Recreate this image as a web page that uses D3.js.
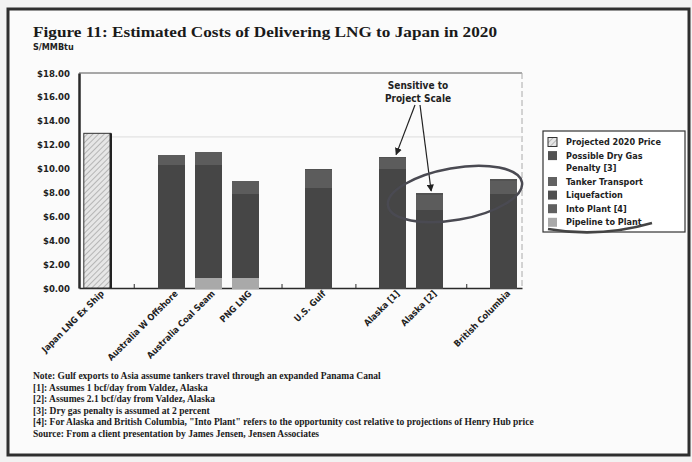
<!DOCTYPE html>
<html lang="en">
<head>
<meta charset="UTF-8">
<title>Estimated Costs of Delivering LNG to Japan in 2020</title>
<script src="https://d3js.org/d3.v7.min.js"></script>
<style>
    body { margin: 0; background: #f2f2f2; }
    svg { display: block; }
    .narrow { font-family: "Liberation Sans Narrow", "DejaVu Sans Condensed", sans-serif; font-weight: bold; fill: #222; }
    .serif { font-family: "Liberation Serif", "DejaVu Serif", serif; fill: #1a1a1a; }
    .axis path, .axis line { stroke: #2a2a2a; }
</style>
</head>
<body>
<svg id="chart" width="692" height="462"></svg>
<script>
// categories (blank slots are the empty gaps in the original)
const categories = ["Japan LNG Ex Ship", "_1", "Australia W Offshore", "Australia Coal Seam", "PNG LNG", "_2",
    "U.S. Gulf", "_3", "Alaska [1]", "Alaska [2]", "_4", "British Columbia"];

// $/MMBtu
const projected2020 = [12.95, 0, 0, 0, 0, 0, 0, 0, 0, 0, 0, 0];
const pipelineToPlant = [0, 0, 0, 0.9, 0.9, 0, 0, 0, 0, 0, 0, 0];
const intoPlant = [0, 0, 4.0, 3.4, 2.5, 0, 4.0, 0, 4.5, 3.0, 0, 3.8];
const liquefaction = [0, 0, 6.3, 6.0, 4.55, 0, 4.4, 0, 5.5, 3.6, 0, 4.1];
const tankerTransport = [0, 0, 0.85, 1.1, 1.0, 0, 1.5, 0, 0.9, 1.2, 0, 1.1];
const dryGasPenalty = [0, 0, 0, 0, 0, 0, 0.1, 0, 0.1, 0.15, 0, 0.1];

const yTicks = [0, 2, 4, 6, 8, 10, 12, 14, 16, 18];

const legendItems = [
    { key: "projected", label: ["Projected 2020 Price"] },
    { key: "dryGas", label: ["Possible Dry Gas", "Penalty [3]"] },
    { key: "tanker", label: ["Tanker Transport"] },
    { key: "liquefaction", label: ["Liquefaction"] },
    { key: "intoPlant", label: ["Into Plant [4]"] },
    { key: "pipeline", label: ["Pipeline to Plant"] }
];

const notes = [
    "Note: Gulf exports to Asia assume tankers travel through an expanded Panama Canal",
    "[1]: Assumes 1 bcf/day from Valdez, Alaska",
    "[2]: Assumes 2.1 bcf/day from Valdez, Alaska",
    "[3]: Dry gas penalty is assumed at 2 percent",
    "[4]: For Alaska and British Columbia, \"Into Plant\" refers to the opportunity cost relative to projections of Henry Hub price",
    "Source: From a client presentation by James Jensen, Jensen Associates"
];

const colors = {
    projected: "url(#hatch)",
    pipeline: "#a9a9a9",
    intoPlant: "#464646",
    liquefaction: "#464646",
    tanker: "#5c5c5c",
    dryGas: "#525252"
};
const legendColors = Object.assign({}, colors, { intoPlant: "#606060", tanker: "#626262", liquefaction: "#4f4f4f" });

// table for d3.stack
const table = categories.map((c, i) => ({
    cat: c,
    pipeline: pipelineToPlant[i],
    intoPlant: intoPlant[i],
    liquefaction: liquefaction[i],
    tanker: tankerTransport[i],
    dryGas: dryGasPenalty[i],
    projected: projected2020[i]
}));
const stackKeys = ["pipeline", "intoPlant", "liquefaction", "tanker", "dryGas"];

const svg = d3.select("#chart");
const plot = { left: 79, right: 522, top: 73, bottom: 288 };

const defs = svg.append("defs");
const pat = defs.append("pattern")
    .attr("id", "hatch")
    .attr("patternUnits", "userSpaceOnUse")
    .attr("width", 4).attr("height", 4)
    .attr("patternTransform", "rotate(45)");
pat.append("rect").attr("width", 4).attr("height", 4).attr("fill", "#e6e6e6");
pat.append("line").attr("x1", 0).attr("y1", 0).attr("x2", 0).attr("y2", 4)
    .attr("stroke", "#9a9a9a").attr("stroke-width", 1.3);

// frame
svg.append("rect").attr("x", 8).attr("y", 9).attr("width", 681).attr("height", 446)
    .attr("fill", "#fbfbfb").attr("stroke", "#2e2e2e").attr("stroke-width", 3);

svg.append("text").attr("class", "serif")
    .attr("x", 33).attr("y", 37)
    .style("font-size", "15px").style("font-weight", "bold")
    .attr("textLength", 464).attr("lengthAdjust", "spacingAndGlyphs")
    .text("Figure 11: Estimated Costs of Delivering LNG to Japan in 2020");

svg.append("text").attr("class", "narrow")
    .attr("x", 33).attr("y", 50)
    .style("font-size", "9px")
    .text("S/MMBtu");

const x = d3.scaleBand().domain(categories).range([plot.left, plot.right]).paddingInner(0.27).paddingOuter(0.13);
const y = d3.scaleLinear().domain([0, 18]).range([plot.bottom, plot.top]);

// plot frame lines
svg.append("line").attr("x1", plot.left).attr("x2", plot.right).attr("y1", plot.top).attr("y2", plot.top)
    .attr("stroke", "#555").attr("stroke-width", 1);
svg.append("line").attr("x1", plot.right).attr("x2", plot.right).attr("y1", plot.top).attr("y2", plot.bottom)
    .attr("stroke", "#aaa").attr("stroke-width", 1).attr("stroke-dasharray", "6,3");
svg.append("line").attr("x1", x(categories[0]) + x.bandwidth()).attr("x2", plot.right)
    .attr("y1", y(12.65)).attr("y2", y(12.65))
    .attr("stroke", "#dcdcdc").attr("stroke-width", 1);

// x axis
const xAxis = svg.append("g").attr("class", "axis")
    .attr("transform", `translate(0,${plot.bottom})`)
    .call(d3.axisBottom(x).tickSize(-4).tickSizeOuter(0).tickFormat(d => d.startsWith("_") ? "" : d));
xAxis.select(".domain").attr("stroke-width", 1.5);
xAxis.selectAll("text")
    .attr("class", "narrow")
    .style("font-size", "9px")
    .attr("text-anchor", "end")
    .attr("transform", "translate(5,4) rotate(-45)")
    .attr("dy", "0.35em")
    .attr("y", 0).attr("x", 0);

// y axis
const yAxis = svg.append("g").attr("class", "axis")
    .attr("transform", `translate(${plot.left},0)`)
    .call(d3.axisLeft(y).tickValues(yTicks).tickSize(0).tickPadding(9).tickFormat(d => "$" + d3.format(".2f")(d)));
yAxis.select(".domain").attr("stroke-width", 2.5);
yAxis.selectAll("text").attr("class", "narrow").style("font-size", "9.5px");

// projected price bar
svg.append("rect")
    .attr("x", x(categories[0]))
    .attr("y", y(table[0].projected))
    .attr("width", x.bandwidth())
    .attr("height", plot.bottom - y(table[0].projected))
    .attr("fill", colors.projected)
    .attr("stroke", "#333").attr("stroke-width", 1);
svg.append("line")
    .attr("x1", x(categories[0]) + x.bandwidth()).attr("x2", x(categories[0]) + x.bandwidth())
    .attr("y1", y(table[0].projected)).attr("y2", plot.bottom)
    .attr("stroke", "#222").attr("stroke-width", 2.5);

// stacked cost bars
const series = d3.stack().keys(stackKeys)(table);
svg.append("g")
    .attr("shape-rendering", "crispEdges")
    .selectAll("g")
    .data(series)
    .join("g")
    .attr("fill", d => colors[d.key])
    .selectAll("rect")
    .data(d => d.filter(s => s[1] - s[0] > 0))
    .join("rect")
    .attr("x", d => x(d.data.cat))
    .attr("y", d => y(d[1]))
    .attr("width", x.bandwidth())
    .attr("height", d => y(d[0]) - y(d[1]) + 0.5);

// annotation
const ann = svg.append("g");
ann.append("text").attr("class", "narrow").attr("x", 418).attr("y", 89)
    .attr("text-anchor", "middle").style("font-size", "10px").text("Sensitive to");
ann.append("text").attr("class", "narrow").attr("x", 418).attr("y", 102)
    .attr("text-anchor", "middle").style("font-size", "10px").text("Project Scale");

defs.append("marker").attr("id", "arrow").attr("viewBox", "0 0 10 10")
    .attr("refX", 9).attr("refY", 5).attr("markerWidth", 6).attr("markerHeight", 6)
    .attr("orient", "auto")
    .append("path").attr("d", "M0,0 L10,5 L0,10 z").attr("fill", "#222");

const a1 = "Alaska [1]", a2 = "Alaska [2]";
const a1Top = y(d3.sum(stackKeys, k => table[categories.indexOf(a1)][k]));
const a2Top = y(d3.sum(stackKeys, k => table[categories.indexOf(a2)][k]));
ann.append("line").attr("x1", 415).attr("y1", 105)
    .attr("x2", x(a1) + x.bandwidth() * 0.62).attr("y2", a1Top - 2)
    .attr("stroke", "#222").attr("stroke-width", 1.2).attr("marker-end", "url(#arrow)");
ann.append("line").attr("x1", 420).attr("y1", 105)
    .attr("x2", x(a2) + x.bandwidth() * 0.55).attr("y2", a2Top - 2)
    .attr("stroke", "#222").attr("stroke-width", 1.2).attr("marker-end", "url(#arrow)");

// hand-drawn loop
ann.append("ellipse")
    .attr("cx", 455).attr("cy", 194).attr("rx", 68).attr("ry", 26)
    .attr("transform", "rotate(-10,455,194)")
    .attr("fill", "none").attr("stroke", "#4a4a52").attr("stroke-width", 2.5);

// legend
const lg = svg.append("g");
lg.append("rect").attr("x", 543).attr("y", 131).attr("width", 142).attr("height", 101)
    .attr("fill", "#fff").attr("stroke", "#333").attr("stroke-width", 1.2);
let ly = 142;
legendItems.forEach(item => {
    lg.append("rect").attr("x", 548).attr("y", ly - 4.5).attr("width", 9).attr("height", 9)
        .attr("fill", legendColors[item.key])
        .attr("stroke", item.key === "projected" ? "#333" : "none");
    item.label.forEach((t, j) => {
        lg.append("text").attr("class", "narrow").attr("x", 566).attr("y", ly + j * 12.3)
            .attr("dy", "0.35em").style("font-size", "9px").text(t);
    });
    ly += item.label.length * 12.3 + 1.3;
});
lg.append("path").attr("d", "M548,229 Q600,238 652,223")
    .attr("fill", "none").attr("stroke", "#444").attr("stroke-width", 2.5);

// notes
svg.append("g").selectAll("text")
    .data(notes)
    .join("text")
    .attr("class", "serif")
    .attr("x", 33)
    .attr("y", (d, i) => 379 + i * 11.6)
    .style("font-size", "9.5px")
    .style("font-weight", "bold")
    .text(d => d);
</script>
</body>
</html>
